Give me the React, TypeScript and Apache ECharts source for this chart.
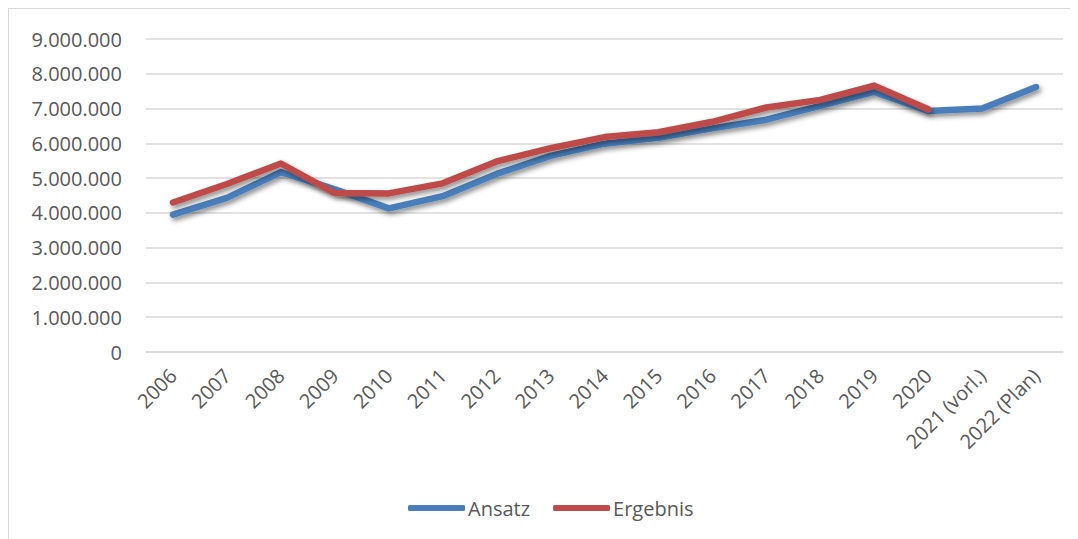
import React, { useEffect, useRef } from "react";
import * as echarts from "echarts";

const categories = [
  "2006", "2007", "2008", "2009", "2010", "2011", "2012", "2013", "2014",
  "2015", "2016", "2017", "2018", "2019", "2020", "2021 (vorl.)", "2022 (Plan)",
];
const ansatz = [
  3950000, 4430000, 5170000, 4680000, 4130000, 4480000, 5120000, 5640000, 5990000,
  6160000, 6430000, 6680000, 7080000, 7480000, 6930000, 7000000, 7620000,
];
const ergebnis: (number | null)[] = [
  4300000, 4830000, 5420000, 4570000, 4560000, 4850000, 5480000, 5860000, 6180000,
  6320000, 6620000, 7030000, 7250000, 7660000, 6980000, null, null,
];
const yMax = 9000000;
const yStep = 1000000;

const FONT = "Open Sans";
const TXT = "#595959";
const FS = 20;

function fmt(v: number) {
  return String(v).replace(/\B(?=(\d{3})+(?!\d))/g, ".");
}

export default function App() {
  const ref = useRef<HTMLDivElement>(null);
  useEffect(() => {
    if (!ref.current) return;
    const chart = echarts.init(ref.current, null, { renderer: "svg" });
    const shadow = {
      shadowColor: "rgba(0,0,0,0.45)",
      shadowBlur: 5,
      shadowOffsetX: 2,
      shadowOffsetY: 3,
    };
    chart.setOption({
      animation: false,
      backgroundColor: "#ffffff",
      textStyle: { fontFamily: FONT },
      grid: { left: 137, top: 30, width: 917, height: 313, containLabel: false },
      legend: {
        top: 484,
        left: 394,
        icon: "roundRect",
        itemWidth: 57,
        itemHeight: 6,
        itemGap: 23,
        textStyle: { color: TXT, fontSize: FS, fontFamily: FONT, padding: [0, 0, 0, -2] },
        data: ["Ansatz", "Ergebnis"],
      },
      xAxis: {
        type: "category",
        data: categories,
        boundaryGap: true,
        axisLine: { lineStyle: { color: "#d9d9d9", width: 1.5 } },
        axisTick: { show: false },
        axisLabel: {
          rotate: 45,
          interval: 0,
          margin: 20,
          color: TXT,
          fontSize: FS,
          fontFamily: FONT,
        },
      },
      yAxis: {
        type: "value",
        min: 0,
        max: yMax,
        interval: yStep,
        axisLine: { show: false },
        axisTick: { show: false },
        splitLine: { lineStyle: { color: "#d9d9d9", width: 1.5 } },
        axisLabel: {
          margin: 24,
          color: TXT,
          fontSize: FS,
          fontFamily: FONT,
          formatter: (v: number) => fmt(v),
        },
      },
      series: [
        {
          name: "Ansatz",
          type: "line",
          data: ansatz,
          showSymbol: false,
          symbol: "none",
          itemStyle: { color: "#4a7ebb" },
          lineStyle: { color: "#4a7ebb", width: 6.5, cap: "round", join: "round", ...shadow },
        },
        {
          name: "Ergebnis",
          type: "line",
          data: ergebnis,
          showSymbol: false,
          symbol: "none",
          itemStyle: { color: "#be4b48" },
          lineStyle: { color: "#be4b48", width: 6.5, cap: "round", join: "round", ...shadow },
        },
      ],
    });
    return () => chart.dispose();
  }, []);
  return (
    <div
      style={{
        width: 1070,
        height: 531,
        borderLeft: "1px solid #d9d9d9",
        borderTop: "1px solid #d9d9d9",
        boxSizing: "border-box",
        overflow: "hidden",
      }}
    >
      <div ref={ref} style={{ width: 1069, height: 530 }} />
    </div>
  );
}
